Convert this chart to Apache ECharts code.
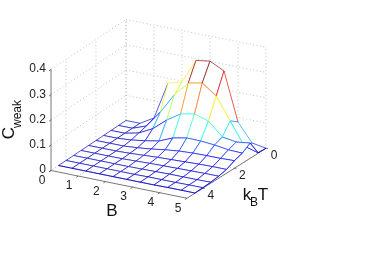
<!DOCTYPE html>
<html><head><meta charset="utf-8">
<style>html,body{margin:0;padding:0;background:#fff}#c{width:387px;height:259px}</style>
<script src="https://cdn.jsdelivr.net/npm/echarts@6/dist/echarts.min.js"></script></head>
<body><div id="c"></div>
<script>
const bValues=[0,0.5,1,1.5,2,2.5,3,3.5,4,4.5,5];
const tValues=[0,0.5,1,1.5,2,2.5,3,3.5,4,4.5];
const weakT00=[0,0,0.032,0.181,0.196,0.293,0.301,0.273,0.082,0.01,0];
const weakT05=[0,0,0.02,0.086,0.165,0.223,0.234,0.194,0.106,0.018,0.002];
const weakT10=[0,0,0.012,0.04,0.085,0.12,0.131,0.114,0.062,0.053,0.06];
const weakT15=[0,0,0.004,0.012,0.022,0.045,0.056,0.055,0.05,0.042,0.04];
const weakT20=[0,0,0,0.004,0.01,0.018,0.024,0.027,0.028,0.028,0.03];
const weakT25=[0,0,0,0.002,0.005,0.008,0.01,0.012,0.014,0.015,0.015];
const weakT30=[0,0,0,0,0.002,0.004,0.005,0.006,0.007,0.008,0.008];
const weakT35=[0,0,0,0,0,0.001,0.002,0.003,0.003,0.003,0.004];
const weakT40=[0,0,0,0,0,0,0.001,0.001,0.001,0.002,0.002];
const weakT45=[0,0,0,0,0,0,0,0,0.001,0.001,0.001];
const weakRows=[weakT00,weakT05,weakT10,weakT15,weakT20,weakT25,weakT30,weakT35,weakT40,weakT45];
const bTicks=[0,1,2,3,4,5];
const tTicks=[0,2,4];
const zTicks=[0,0.1,0.2,0.3,0.4];
const zTickLabels=['0','0.1','0.2','0.3','0.4'];
const colorMax=0.301;

function project(b,t,c){return [126+28*b-15*t-0.16*b*t,120.5+5.55*b+10*t-252.5*c];}
function jet(v){
  const f=x=>Math.max(0,Math.min(1,x));
  const r=f(Math.min(4*v-1.5,-4*v+4.5)),g=f(Math.min(4*v-0.5,-4*v+3.5)),b=f(Math.min(4*v+0.75,-4*v+2.5));
  return `rgb(${Math.round(r*255)},${Math.round(g*255)},${Math.round(b*255)})`;
}
const cells=[];
tValues.forEach((t,j)=>bValues.forEach((b,i)=>cells.push([i,j])));
const dotted=[],solid=[];
zTicks.slice(1).forEach(z=>{dotted.push([0,5,z,0,0,z]);dotted.push([0,0,z,5,0,z]);});
tTicks.forEach(t=>{dotted.push([0,t,0,0,t,0.4]);dotted.push([0,t,0,5,t,0]);});
bTicks.forEach(b=>{dotted.push([b,0,0,b,0,0.4]);dotted.push([b,0,0,b,5,0]);});
solid.push([0,5,0,0,5,0.4],[0,5,0,5,5,0],[5,5,0,5,0,0]);
bTicks.forEach(b=>solid.push([b,5,0,b,5.13,0]));
tTicks.forEach(t=>solid.push([5,t,0,5.07,t,0]));
zTicks.forEach(z=>solid.push([0,5,z,0,5.13,z]));

function segSeries(data,style,z){
  return {type:'custom',coordinateSystem:'cartesian2d',silent:true,clip:false,z,animation:false,
    encode:{x:0,y:1},data,
    renderItem(p,api){
      const d=[0,1,2,3,4,5].map(k=>api.value(k));
      const a=api.coord(project(d[0],d[1],d[2])),b=api.coord(project(d[3],d[4],d[5]));
      return {type:'line',shape:{x1:a[0],y1:a[1],x2:b[0],y2:b[1]},style};
    }};
}
const meshSeries={type:'custom',coordinateSystem:'cartesian2d',silent:true,clip:false,z:3,animation:false,
  encode:{x:0,y:1},data:cells,
  renderItem(p,api){
    const i=api.value(0),j=api.value(1),children=[];
    const P=(m,n)=>api.coord(project(bValues[m],tValues[n],weakRows[n][m]));
    const L=(a,b,v)=>({type:'line',shape:{x1:a[0],y1:a[1],x2:b[0],y2:b[1]},
      style:{stroke:jet(v/colorMax),lineWidth:0.9,opacity:0.72}});
    const hasB=i<bValues.length-1,hasT=j<tValues.length-1;
    if(hasB&&hasT){
      children.push({type:'polygon',shape:{points:[P(i,j),P(i+1,j),P(i+1,j+1),P(i,j+1)]},style:{fill:'#fff',stroke:null}});
      children.push(L(P(i,j+1),P(i+1,j+1),weakRows[j+1][i]));
      children.push(L(P(i+1,j),P(i+1,j+1),weakRows[j][i+1]));
    }
    if(hasB) children.push(L(P(i,j),P(i+1,j),weakRows[j][i]));
    if(hasT) children.push(L(P(i,j),P(i,j+1),weakRows[j][i]));
    return {type:'group',children};
  }};
const tick={font:'12px "Liberation Sans"',fill:'#222',align:'center',verticalAlign:'middle'};
const tickEls=[];
zTicks.forEach((z,k)=>{const p=project(0,5,z);tickEls.push({type:'text',x:p[0]-5,y:p[1]-0.5,silent:true,style:{...tick,text:zTickLabels[k],align:'right'}});});
bTicks.forEach(b=>{const p=project(b,5,0);tickEls.push({type:'text',x:p[0]-9,y:p[1]+10,silent:true,style:{...tick,text:String(b)}});});
tTicks.forEach(t=>{const p=project(5,t,0);tickEls.push({type:'text',x:p[0]+8,y:p[1]+7,silent:true,style:{...tick,text:String(t)}});});
const big={fill:'#111',font:'17px "Liberation Sans"',align:'center',verticalAlign:'middle'};
const small={fill:'#111',font:'12px "Liberation Sans"',align:'center',verticalAlign:'middle'};
const titles=[
 {type:'text',x:112,y:211,silent:true,style:{...big,text:'B'}},
 {type:'text',x:247,y:195,silent:true,style:{...big,text:'k'}},
 {type:'text',x:254,y:203,silent:true,style:{...small,text:'B'}},
 {type:'text',x:263,y:195,silent:true,style:{...big,text:'T'}},
 {type:'text',x:9,y:133,rotation:Math.PI/2,silent:true,style:{...big,text:'C'}},
 {type:'text',x:18,y:114,rotation:Math.PI/2,silent:true,style:{...small,text:'weak'}}
];
const chart=echarts.init(document.getElementById('c'),null,{renderer:'canvas'});
chart.setOption({animation:false,backgroundColor:'#fff',
  grid:{left:0,right:0,top:0,bottom:0},
  xAxis:{type:'value',min:0,max:387,show:false},
  yAxis:{type:'value',min:0,max:259,inverse:true,show:false},
  graphic:{elements:[...tickEls,...titles]},
  series:[
    segSeries(dotted,{stroke:'#b4b4b4',lineWidth:0.8,lineDash:[1,2.5]},1),
    segSeries(solid,{stroke:'#555',lineWidth:0.8},2),
    meshSeries
  ]});
</script></body></html>
